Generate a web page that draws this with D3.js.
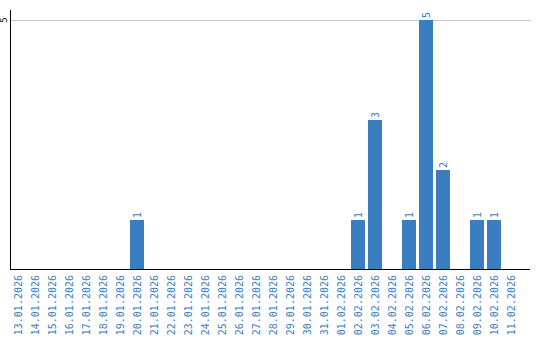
<!DOCTYPE html>
<html>
<head>
<meta charset="utf-8">
<script src="https://cdn.jsdelivr.net/npm/d3@7"></script>
<style>
  body { margin: 0; background: #fff; }
  svg { display: block; }
</style>
</head>
<body>
<svg id="chart" width="540" height="340"></svg>
<script>
// categories and values
const dates = ["13.01.2026","14.01.2026","15.01.2026","16.01.2026","17.01.2026","18.01.2026",
  "19.01.2026","20.01.2026","21.01.2026","22.01.2026","23.01.2026","24.01.2026","25.01.2026",
  "26.01.2026","27.01.2026","28.01.2026","29.01.2026","30.01.2026","31.01.2026","01.02.2026",
  "02.02.2026","03.02.2026","04.02.2026","05.02.2026","06.02.2026","07.02.2026","08.02.2026",
  "09.02.2026","10.02.2026","11.02.2026"];
const counts = [0,0,0,0,0,0,0,1,0,0,0,0,0,0,0,0,0,0,0,0,1,3,0,1,5,2,0,1,1,0];
const yTicks = [5];

const blue = "#3b7dc1";
const svg = d3.select("#chart");

const x = d3.scaleBand()
  .domain(dates)
  .range([11, 521])
  .paddingInner(3/17)
  .paddingOuter(1.5/17)
  .align(0);

const y = d3.scaleLinear()
  .domain([0, 5])
  .range([270, 20]);

// gridline
svg.selectAll(".grid")
  .data(yTicks)
  .enter()
  .append("line")
  .attr("x1", 11)
  .attr("x2", 531)
  .attr("y1", d => y(d) + 0.5)
  .attr("y2", d => y(d) + 0.5)
  .style("stroke", "#c8c8c8")
  .style("stroke-width", 1);

// bars
const data = dates.map((d, i) => ({date: d, value: counts[i]}));
const nz = data.filter(d => d.value > 0);

svg.selectAll(".bar")
  .data(nz)
  .enter()
  .append("rect")
  .attr("x", d => x(d.date))
  .attr("width", x.bandwidth())
  .attr("y", d => y(d.value))
  .attr("height", d => y(0) - y(d.value))
  .style("fill", blue);

// value labels
svg.selectAll(".val")
  .data(nz)
  .enter()
  .append("text")
  .attr("transform", d => "translate(" + (x(d.date) + x.bandwidth()/2) + "," + (y(d.value) - 2) + ") rotate(-90)")
  .attr("dy", "0.35em")
  .style("font-family", "DejaVu Sans Mono, monospace")
  .style("font-size", "10px")
  .style("fill", blue)
  .text(d => d.value);

// axes lines
svg.append("line")
  .attr("x1", 10.5).attr("x2", 10.5)
  .attr("y1", 10).attr("y2", 270)
  .style("stroke", "#000").style("stroke-width", 1);
svg.append("line")
  .attr("x1", 10).attr("x2", 530)
  .attr("y1", 269.5).attr("y2", 269.5)
  .style("stroke", "#000").style("stroke-width", 1);

// y tick labels
svg.selectAll(".ytick")
  .data(yTicks)
  .enter()
  .append("text")
  .attr("transform", d => "translate(4," + y(d) + ") rotate(-90)")
  .attr("text-anchor", "middle")
  .attr("dy", "0.35em")
  .style("font-family", "DejaVu Sans Mono, monospace")
  .style("font-size", "9px")
  .style("fill", "#000")
  .text(d => d);

// x tick labels
svg.selectAll(".xtick")
  .data(dates)
  .enter()
  .append("text")
  .attr("transform", d => "translate(" + (x(d) + x.bandwidth()/2) + ",275) rotate(-90)")
  .attr("text-anchor", "end")
  .attr("dy", "0.35em")
  .style("font-family", "DejaVu Sans Mono, monospace")
  .style("font-size", "10px")
  .style("fill", blue)
  .text(d => d);
</script>
</body>
</html>
